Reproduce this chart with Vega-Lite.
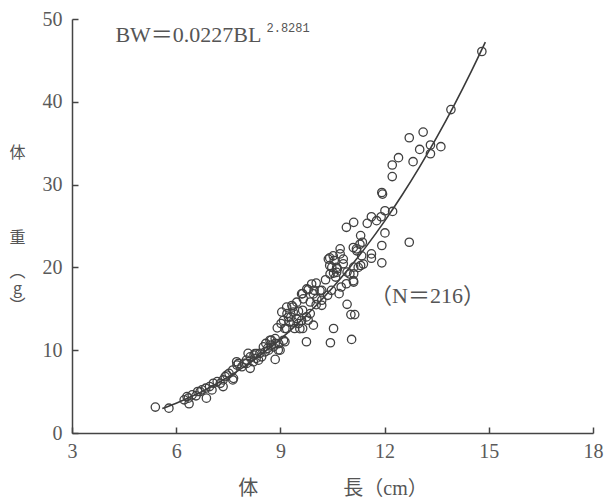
{
  "$schema": "https://vega.github.io/schema/vega-lite/v6.json",
  "width": 521,
  "height": 414,
  "autosize": {"type": "none"},
  "padding": {"left": 72, "top": 19, "right": 15, "bottom": 67},
  "background": "white",
  "config": {
    "view": {"stroke": null},
    "axis": {"grid": false, "domainColor": "#444", "domainWidth": 1.5, "tickColor": "#444", "tickWidth": 1.5,
      "labelFont": "Liberation Serif", "labelFontSize": 20, "labelColor": "#5a5a5a",
      "titleFont": "Liberation Serif, Noto Sans CJK JP", "titleFontSize": 20, "titleColor": "#555", "titleFontWeight": "normal"}
  },
  "datasets": {
    "pts": [
      {"bl":14.80,"bw":46.07},{"bl":13.91,"bw":39.06},{"bl":13.11,"bw":36.34},{"bl":12.71,"bw":35.66},{"bl":13.32,"bw":34.78},
      {"bl":13.62,"bw":34.58},{"bl":13.01,"bw":34.25},{"bl":13.32,"bw":33.73},{"bl":12.82,"bw":32.77},{"bl":12.40,"bw":33.25},
      {"bl":12.22,"bw":32.37},{"bl":12.22,"bw":30.97},{"bl":11.92,"bw":29.05},{"bl":11.94,"bw":28.85},{"bl":12.01,"bw":26.84},
      {"bl":12.23,"bw":26.76},{"bl":11.90,"bw":26.12},{"bl":11.62,"bw":26.12},{"bl":11.77,"bw":25.64},{"bl":11.50,"bw":25.32},
      {"bl":11.11,"bw":25.44},{"bl":10.90,"bw":24.84},{"bl":12.01,"bw":24.16},{"bl":12.71,"bw":23.04},{"bl":11.92,"bw":22.64},
      {"bl":11.92,"bw":20.55},{"bl":11.31,"bw":23.84},{"bl":11.36,"bw":23.04},{"bl":11.29,"bw":22.8},{"bl":11.19,"bw":22.24},
      {"bl":11.20,"bw":22.0},{"bl":11.10,"bw":22.4},{"bl":11.34,"bw":21.4},{"bl":11.62,"bw":21.63},{"bl":11.62,"bw":21.11},
      {"bl":11.31,"bw":20.23},{"bl":11.39,"bw":20.4},{"bl":11.11,"bw":20.03},{"bl":11.24,"bw":20.0},{"bl":11.11,"bw":19.23},
      {"bl":11.11,"bw":18.23},{"bl":10.92,"bw":19.43},{"bl":11.00,"bw":19.2},{"bl":10.90,"bw":18.03},{"bl":11.10,"bw":18.4},
      {"bl":10.72,"bw":22.24},{"bl":10.72,"bw":21.63},{"bl":10.42,"bw":21.15},{"bl":10.52,"bw":21.4},{"bl":10.55,"bw":20.83},
      {"bl":10.38,"bw":21.0},{"bl":10.81,"bw":21.0},{"bl":10.42,"bw":20.23},{"bl":10.48,"bw":20.0},{"bl":10.62,"bw":20.0},
      {"bl":10.64,"bw":19.83},{"bl":10.81,"bw":20.43},{"bl":10.53,"bw":19.31},{"bl":10.62,"bw":19.4},{"bl":10.43,"bw":19.2},
      {"bl":10.30,"bw":18.51},{"bl":10.59,"bw":18.83},{"bl":10.75,"bw":17.63},{"bl":10.47,"bw":17.23},{"bl":10.69,"bw":16.83},
      {"bl":10.19,"bw":17.23},{"bl":10.36,"bw":16.63},{"bl":10.03,"bw":18.11},{"bl":9.90,"bw":18.0},{"bl":9.76,"bw":17.4},
      {"bl":10.19,"bw":16.03},{"bl":10.03,"bw":15.50},{"bl":9.86,"bw":15.82},{"bl":9.80,"bw":17.31},{"bl":9.64,"bw":16.83},
      {"bl":9.61,"bw":16.8},{"bl":9.95,"bw":16.8},{"bl":10.14,"bw":17.2},{"bl":10.05,"bw":16.2},{"bl":9.66,"bw":16.2},
      {"bl":9.47,"bw":15.8},{"bl":9.97,"bw":17.23},{"bl":10.19,"bw":15.42},{"bl":10.92,"bw":15.54},{"bl":11.03,"bw":14.30},
      {"bl":11.14,"bw":14.30},{"bl":10.53,"bw":12.62},{"bl":10.44,"bw":10.90},{"bl":11.05,"bw":11.30},{"bl":9.75,"bw":11.02},
      {"bl":9.95,"bw":13.02},{"bl":9.64,"bw":12.62},{"bl":9.36,"bw":15.22},{"bl":9.33,"bw":15.4},{"bl":9.18,"bw":15.2},
      {"bl":9.52,"bw":14.70},{"bl":9.19,"bw":14.42},{"bl":9.04,"bw":14.6},{"bl":9.37,"bw":14.6},{"bl":9.30,"bw":14.02},
      {"bl":9.23,"bw":14.0},{"bl":9.64,"bw":14.82},{"bl":9.75,"bw":14.02},{"bl":9.86,"bw":14.42},{"bl":9.47,"bw":13.82},
      {"bl":9.25,"bw":13.42},{"bl":9.09,"bw":13.6},{"bl":9.37,"bw":13.4},{"bl":9.61,"bw":13.6},{"bl":9.02,"bw":13.22},
      {"bl":9.13,"bw":12.62},{"bl":9.41,"bw":12.62},{"bl":9.56,"bw":12.6},{"bl":9.18,"bw":12.6},{"bl":8.91,"bw":12.70},
      {"bl":9.52,"bw":13.22},{"bl":9.80,"bw":13.62},{"bl":9.13,"bw":11.02},{"bl":8.85,"bw":10.82},{"bl":8.94,"bw":10.02},
      {"bl":8.74,"bw":10.62},{"bl":8.63,"bw":10.22},{"bl":8.74,"bw":11.22},{"bl":8.70,"bw":11.2},{"bl":8.85,"bw":11.4},
      {"bl":8.58,"bw":10.82},{"bl":8.95,"bw":10.8},{"bl":9.09,"bw":11.2},{"bl":8.51,"bw":10.4},{"bl":8.66,"bw":10.0},
      {"bl":8.80,"bw":10.4},{"bl":8.99,"bw":10.0},{"bl":8.85,"bw":8.89},{"bl":8.41,"bw":9.62},{"bl":8.32,"bw":9.6},
      {"bl":8.46,"bw":9.2},{"bl":8.30,"bw":9.01},{"bl":8.24,"bw":9.41},{"bl":8.13,"bw":9.2},{"bl":8.07,"bw":9.62},
      {"bl":8.02,"bw":8.81},{"bl":8.22,"bw":8.6},{"bl":8.03,"bw":8.4},{"bl":8.13,"bw":7.81},{"bl":7.96,"bw":8.41},
      {"bl":7.89,"bw":8.0},{"bl":7.75,"bw":8.2},{"bl":7.74,"bw":8.61},{"bl":7.63,"bw":7.61},{"bl":7.52,"bw":7.21},
      {"bl":7.41,"bw":6.81},{"bl":7.35,"bw":6.41},{"bl":7.18,"bw":6.21},{"bl":7.07,"bw":6.01},{"bl":6.96,"bw":5.61},
      {"bl":6.85,"bw":5.41},{"bl":6.74,"bw":5.21},{"bl":6.62,"bw":5.01},{"bl":6.46,"bw":4.61},{"bl":6.35,"bw":4.21},
      {"bl":6.23,"bw":4.01},{"bl":6.37,"bw":3.53},{"bl":6.87,"bw":4.21},{"bl":7.35,"bw":5.61},{"bl":7.63,"bw":6.41},
      {"bl":5.79,"bw":3.00},{"bl":5.40,"bw":3.13},{"bl":6.57,"bw":4.49},{"bl":6.31,"bw":4.4},{"bl":6.69,"bw":5.0},
      {"bl":7.03,"bw":5.2},{"bl":7.27,"bw":6.0},{"bl":7.46,"bw":7.0},{"bl":7.65,"bw":6.6},{"bl":7.79,"bw":8.4},
      {"bl":8.27,"bw":9.6},{"bl":8.37,"bw":8.8},{"bl":8.56,"bw":9.8}
    ],
    "curve": [
      {"bl":5.6,"bw":2.965},{"bl":6.0,"bw":3.603},{"bl":6.5,"bw":4.519},{"bl":7.0,"bw":5.573},{"bl":7.5,"bw":6.774},
      {"bl":8.0,"bw":8.127},{"bl":8.5,"bw":9.648},{"bl":9.0,"bw":11.34},{"bl":9.5,"bw":13.21},{"bl":10.0,"bw":15.28},
      {"bl":10.5,"bw":17.54},{"bl":11.0,"bw":20.01},{"bl":11.5,"bw":22.69},{"bl":12.0,"bw":25.59},{"bl":12.5,"bw":28.72},
      {"bl":13.0,"bw":32.09},{"bl":13.5,"bw":35.70},{"bl":14.0,"bw":39.57},{"bl":14.5,"bw":43.70},{"bl":14.9,"bw":47.2}
    ],
    "notes": [
      {"bl":4.25,"bw":48.1,"label":"BW＝0.0227BL"},
      {"bl":11.58,"bw":16.6,"label":"（N＝216）"}
    ],
    "sup": [
      {"bl":8.6,"bw":48.9,"label":"2.8281"}
    ]
  },
  "layer": [
    {
      "data": {"name": "curve"},
      "mark": {"type": "line", "color": "#3a3a3a", "strokeWidth": 1.6, "interpolate": "monotone"},
      "encoding": {
        "x": {"field": "bl", "type": "quantitative",
          "scale": {"domain": [3, 18], "nice": false, "zero": false},
          "axis": {"values": [3, 6, 9, 12, 15, 18], "tickSize": -6, "labelPadding": 14, "labelFlush": false,
            "title": "体　　　　 長（cm）", "titlePadding": 17}},
        "y": {"field": "bw", "type": "quantitative",
          "scale": {"domain": [0, 50], "nice": false},
          "axis": {"values": [0, 10, 20, 30, 40, 50], "tickSize": -6, "labelPadding": 16, "labelFlush": false,
            "title": ["体", "\u2800", "\u2800\u2800", "\u2800\u2800\u2800", "\u2800\u2800\u2800\u2800", "重", "\u2800\u2800\u2800\u2800\u2800", "︵", "g", "︶"], "titleAngle": 0, "titleLineHeight": 17,
            "titleAlign": "center", "titleBaseline": "middle", "titleX": -55, "titleY": 133,
            "titleFont": "Noto Sans CJK JP", "titleFontSize": 16}}
      }
    },
    {
      "data": {"name": "pts"},
      "mark": {"type": "point", "shape": "circle", "filled": false, "stroke": "#404040", "strokeWidth": 1.3, "size": 70, "opacity": 1},
      "encoding": {
        "x": {"field": "bl", "type": "quantitative"},
        "y": {"field": "bw", "type": "quantitative"}
      }
    },
    {
      "data": {"name": "notes"},
      "mark": {"type": "text", "align": "left", "baseline": "middle", "font": "Liberation Serif, Noto Sans CJK JP", "fontSize": 22, "color": "#555"},
      "encoding": {
        "x": {"field": "bl", "type": "quantitative"},
        "y": {"field": "bw", "type": "quantitative"},
        "text": {"field": "label"}
      }
    },
    {
      "data": {"name": "sup"},
      "mark": {"type": "text", "align": "left", "baseline": "middle", "font": "Liberation Mono", "fontSize": 12, "color": "#555"},
      "encoding": {
        "x": {"field": "bl", "type": "quantitative"},
        "y": {"field": "bw", "type": "quantitative"},
        "text": {"field": "label"}
      }
    }
  ]
}
